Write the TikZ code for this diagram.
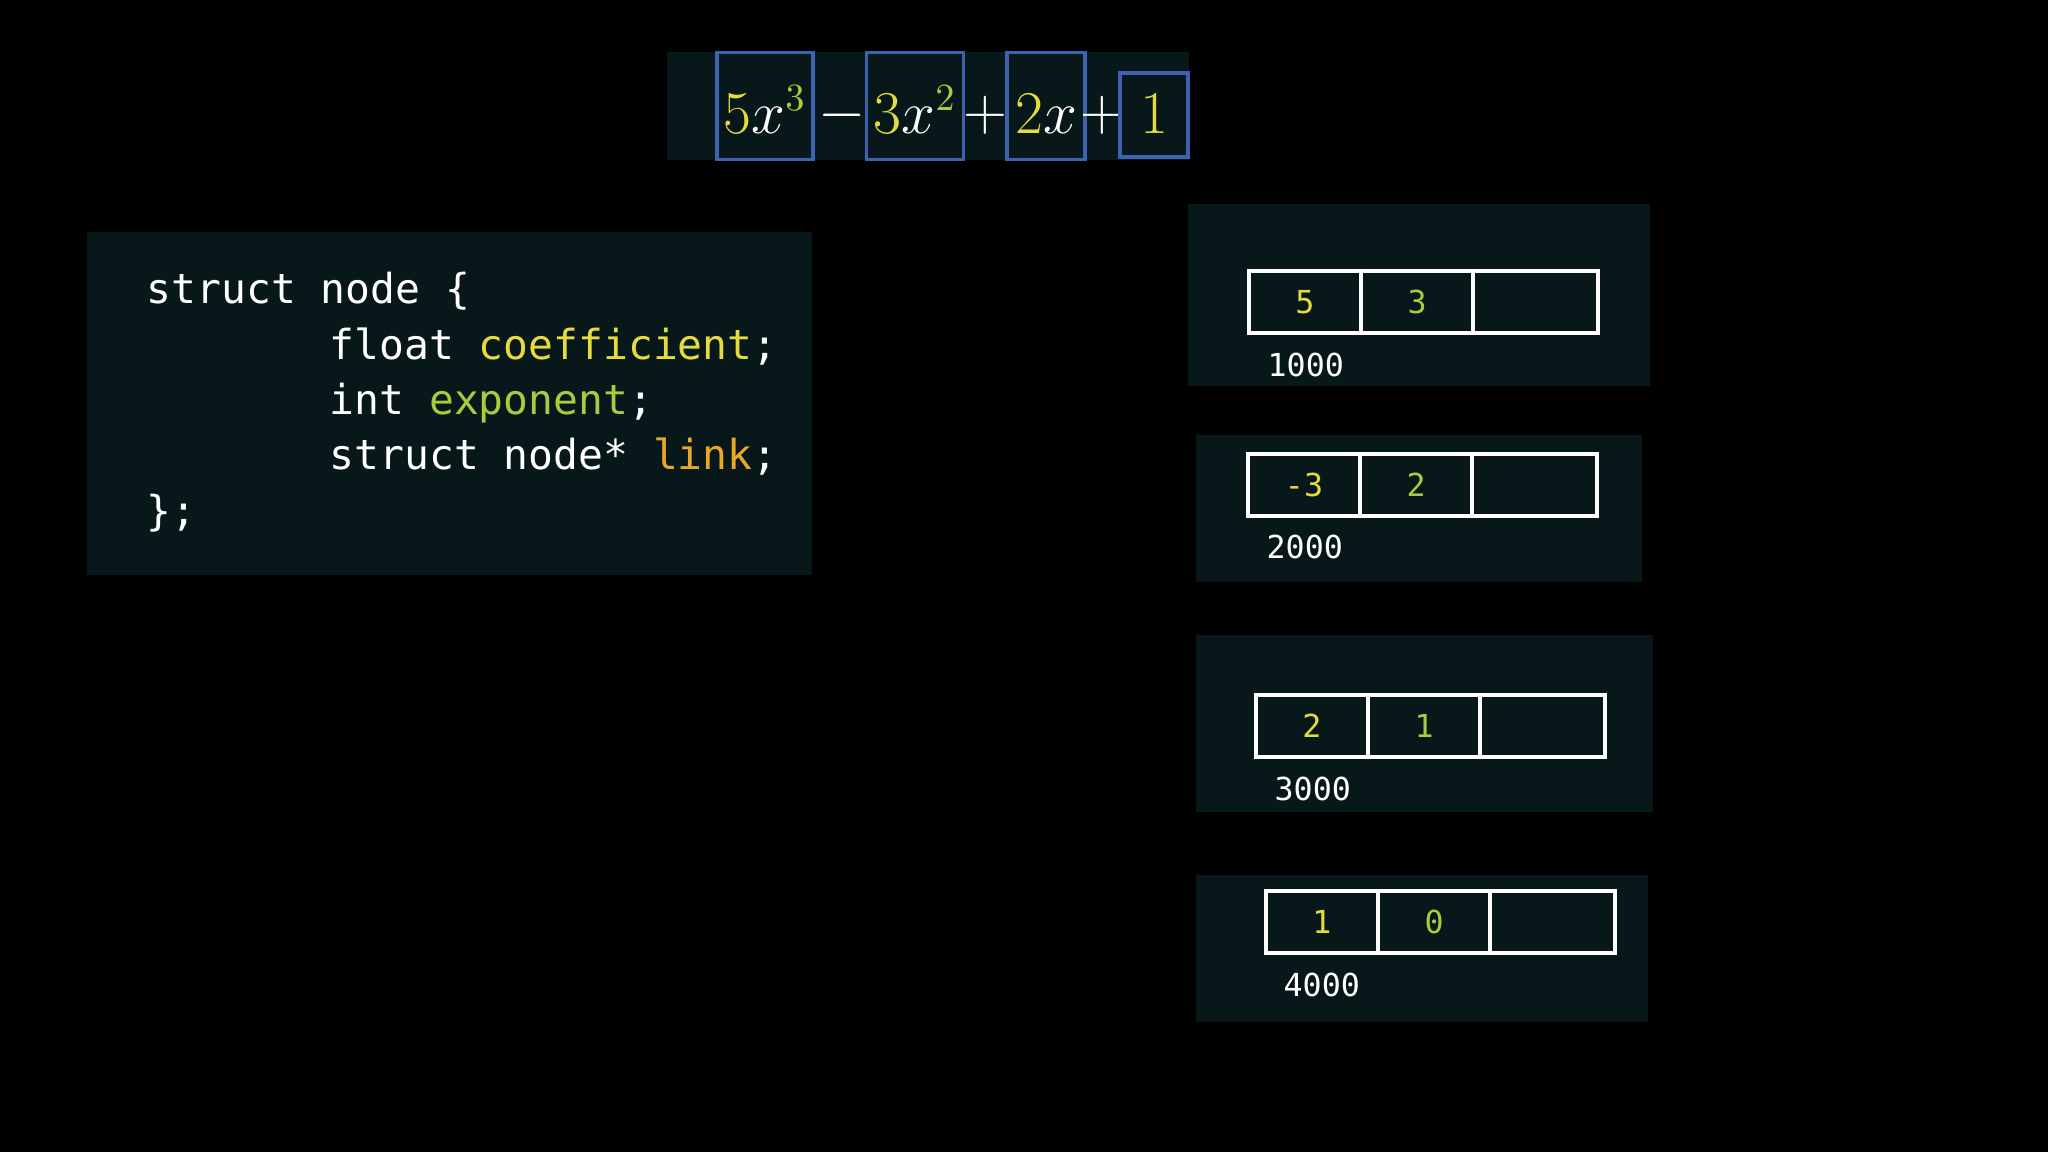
\documentclass[tikz,border=0pt]{standalone}
\usepackage{fontspec}
\setmonofont{DejaVu Sans Mono}
\usepackage{tikz}
\usetikzlibrary{
  positioning               % cells placed next to one another
}
\definecolor{panelbg}{RGB}{8,24,26}
\definecolor{termblue}{RGB}{62,98,176}
\definecolor{coefyellow}{RGB}{228,220,60}
\definecolor{expgreen}{RGB}{168,204,62}
\definecolor{linkorange}{RGB}{234,168,40}
\tikzset{
  panel/.style={
    fill=panelbg
  },
  termbox/.style={
    draw=termblue,
    line width=0.9pt,
    inner sep=0pt,
    outer sep=0pt,
    text=white,
    text depth=0pt,
    font=\fontsize{16}{18}\selectfont
  },
  opsign/.style={
    inner sep=0pt,
    text=white,
    font=\fontsize{16}{18}\selectfont
  },
  codeline/.style={
    anchor=base west,
    inner sep=0pt,
    text=white,
    font=\ttfamily\fontsize{11.75}{15}\selectfont
  },
  memcell/.style={
    draw=white,
    line width=1pt,
    minimum height=6.2mm,
    inner sep=0pt,
    outer sep=0pt,
    font=\ttfamily\fontsize{9}{11}\selectfont
  },
  addr/.style={
    anchor=west,
    inner sep=0pt,
    text=white,
    font=\ttfamily\fontsize{9}{11}\selectfont
  }
}

\begin{document}
\begin{tikzpicture}[x=0.01cm, y=-0.01cm]

  % 1. black screen
  \fill[black] (0,0) rectangle (2048,1152);
  \useasboundingbox (0,0) rectangle (2048,1152);

  % 2. dark panels behind each block
  \fill[panel] (667,52) rectangle (1189,160);
  \fill[panel] (87,232) rectangle (812,575);
  \fill[panel] (1188,204) rectangle (1650,386);
  \fill[panel] (1196,435) rectangle (1642,582);
  \fill[panel] (1196,635) rectangle (1653,812);
  \fill[panel] (1196,875) rectangle (1648,1022);

  % 3. the polynomial, one box per term (baseline kept low in the box)
  \node[termbox, text height=5.4mm, minimum width=9.6mm, minimum height=10.7mm] (t1) at (765,106) {$\textcolor{coefyellow}{5}x^{\textcolor{expgreen}{3}}$};
  \node[opsign] (op1) at (842,115) {$-$};
  \node[termbox, text height=5.4mm, minimum width=9.7mm, minimum height=10.7mm] (t2) at (915,106) {$\textcolor{coefyellow}{3}x^{\textcolor{expgreen}{2}}$};
  \node[opsign] (op2) at (985,115) {$+$};
  \node[termbox, text height=5.4mm, minimum width=7.8mm, minimum height=10.7mm] (t3) at (1046,106) {$\textcolor{coefyellow}{2}x$};
  \node[opsign] (op3) at (1102,115) {$+$};
  \node[termbox, text height=3.6mm, minimum width=6.8mm, minimum height=8.4mm] (t4) at (1154,115) {$\textcolor{coefyellow}{1}$};

  % 4. the struct declaration
  \node[codeline] (c1) at (146,304) {struct node \{};
  \node[codeline] (c2) at (329,360) {float \textcolor{coefyellow}{coefficient};};
  \node[codeline] (c3) at (329,415) {int \textcolor{expgreen}{exponent};};
  \node[codeline] (c4) at (329,470) {struct node* \textcolor{linkorange}{link};};
  \node[codeline] (c5) at (146,526) {\};};

  % 5. the four list nodes in memory
  % 【5x^3】 at 1000
  \node[memcell, minimum width=11.2mm, text=coefyellow] (n1coef) at (1305,302) {5};
  \node[memcell, minimum width=11.2mm, text=expgreen, right=0pt of n1coef] (n1exp) {3};
  \node[memcell, minimum width=12.5mm, right=0pt of n1exp] (n1link) {};
  \node[addr] (n1addr) at ([shift={(18,32)}]n1coef.south west) {1000};
  % 【-3x^2】 at 2000
  \node[memcell, minimum width=11.2mm, text=coefyellow] (n2coef) at (1304,485) {-3};
  \node[memcell, minimum width=11.2mm, text=expgreen, right=0pt of n2coef] (n2exp) {2};
  \node[memcell, minimum width=12.5mm, right=0pt of n2exp] (n2link) {};
  \node[addr] (n2addr) at ([shift={(18,31)}]n2coef.south west) {2000};
  % 【2x】 at 3000
  \node[memcell, minimum width=11.2mm, text=coefyellow] (n3coef) at (1312,726) {2};
  \node[memcell, minimum width=11.2mm, text=expgreen, right=0pt of n3coef] (n3exp) {1};
  \node[memcell, minimum width=12.5mm, right=0pt of n3exp] (n3link) {};
  \node[addr] (n3addr) at ([shift={(18,32)}]n3coef.south west) {3000};
  % 【1】 at 4000
  \node[memcell, minimum width=11.2mm, text=coefyellow] (n4coef) at (1322,922) {1};
  \node[memcell, minimum width=11.2mm, text=expgreen, right=0pt of n4coef] (n4exp) {0};
  \node[memcell, minimum width=12.5mm, right=0pt of n4exp] (n4link) {};
  \node[addr] (n4addr) at ([shift={(17,32)}]n4coef.south west) {4000};

\end{tikzpicture}
\end{document}
